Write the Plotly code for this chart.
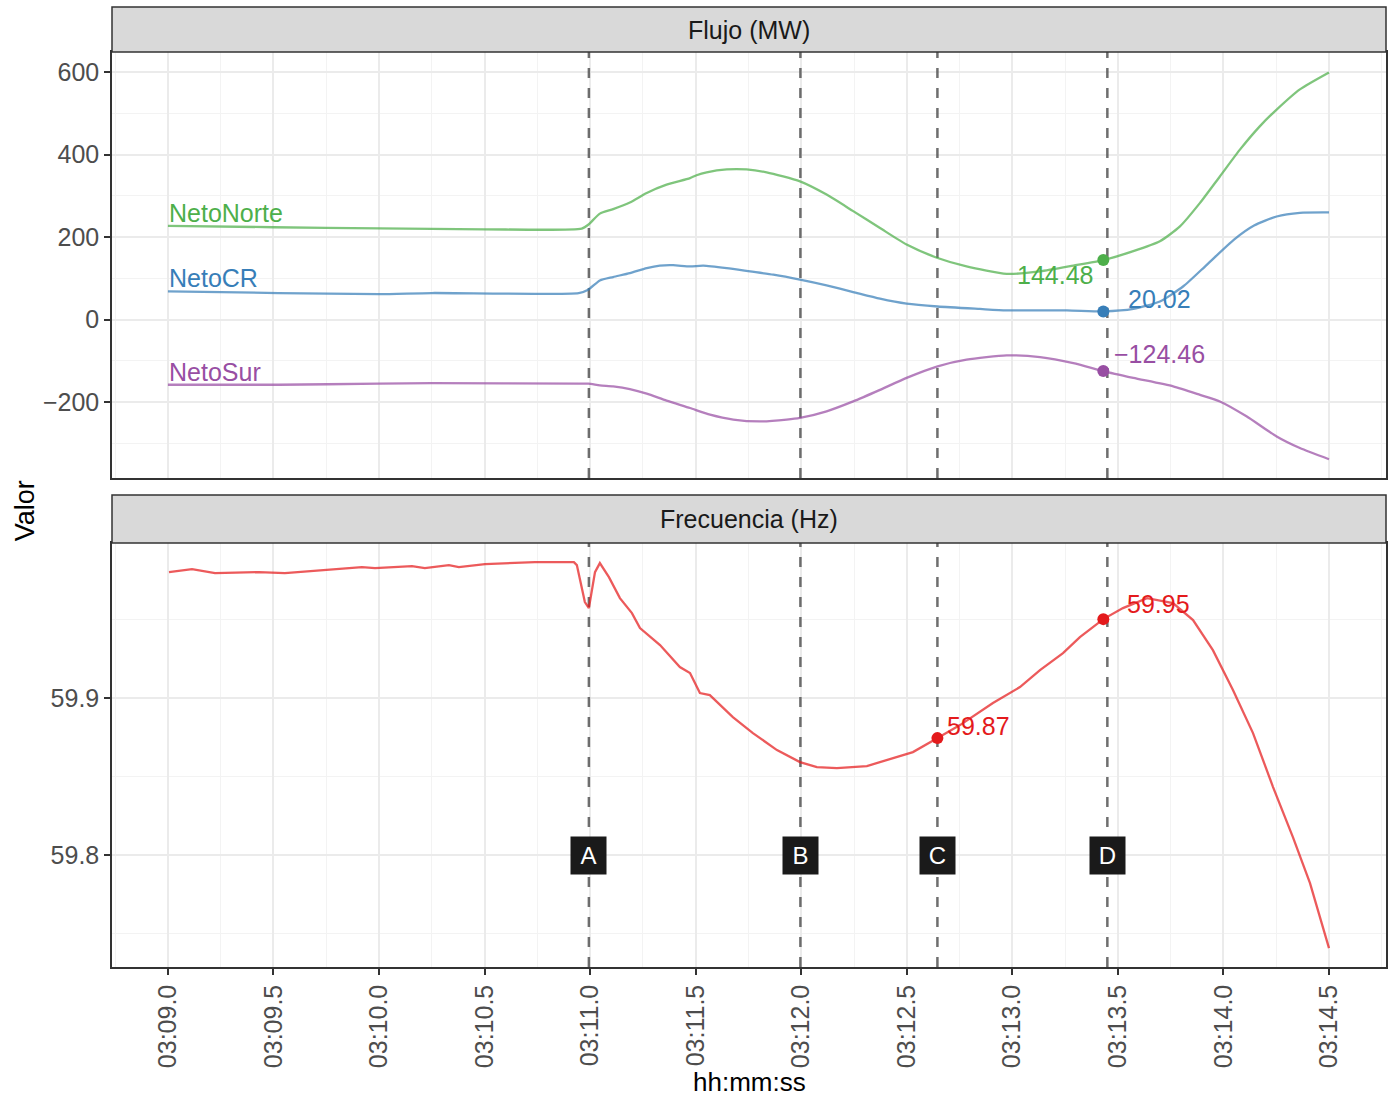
import plotly.graph_objects as go

# ---------------- data ----------------
# x in minutes after 03:00 (e.g. 11.5 -> 03:11.5)
norte_x = [9.0, 9.5, 10.0, 10.5, 10.96, 10.991, 11.046, 11.109, 11.188, 11.268, 11.362, 11.473, 11.504,
           11.552, 11.647, 11.741, 11.836, 11.994, 12.120, 12.246, 12.373, 12.499, 12.646, 12.783,
           12.973, 13.131, 13.289, 13.431, 13.573, 13.699, 13.794, 13.889, 13.983, 14.078, 14.173,
           14.252, 14.362, 14.5]
norte_y = [227.5, 224, 221, 219, 220.6, 230, 257, 268, 284, 307, 327, 343, 350,
           357, 364, 364, 357, 335, 303, 263, 222, 182, 149.5, 129,
           111, 117, 131, 144.48, 166, 190, 226, 283, 347, 412, 469,
           509, 558, 599]

cr_x = [9.0, 9.524, 10.0, 10.25, 10.946, 10.991, 11.046, 11.109, 11.188, 11.268, 11.330, 11.393, 11.473,
        11.536, 11.647, 11.758, 11.868, 11.994, 12.120, 12.246, 12.373, 12.499, 12.646, 12.846,
        12.973, 13.258, 13.431, 13.573, 13.699, 13.810, 13.921, 14.050, 14.145, 14.252, 14.362, 14.5]
cr_y = [68.6, 64.6, 62, 64.6, 64.6, 72.7, 95, 103.4, 113, 125, 131, 132, 129,
        131, 125, 117, 109, 97, 83, 67, 51, 39, 32, 26,
        22.6, 22.6, 20.02, 26, 44, 81, 133, 194, 228, 250, 259, 260]

sur_x = [9.0, 9.524, 10.0, 10.25, 10.946, 10.991, 11.046, 11.109, 11.188, 11.268, 11.362, 11.473, 11.568,
         11.678, 11.804, 11.931, 11.994, 12.120, 12.246, 12.373, 12.499, 12.646, 12.783, 12.973,
         13.131, 13.289, 13.431, 13.573, 13.762, 13.889, 13.983, 14.109, 14.252, 14.362, 14.5]
sur_y = [-157.6, -157.6, -155, -153.5, -155, -155, -159, -161.6, -168, -179, -196, -214, -230,
         -242, -246.5, -242, -238, -222, -198, -170, -141, -113, -97, -86.5,
         -90.5, -105, -124.46, -141, -161.6, -182, -198, -234, -283, -311, -338]

freq_x = [9.005, 9.114, 9.223, 9.431, 9.554, 9.744, 9.919, 9.981, 10.156, 10.217, 10.331, 10.378,
          10.502, 10.738, 10.923, 10.937, 10.975, 10.994, 11.023, 11.046, 11.089, 11.141, 11.198,
          11.236, 11.331, 11.425, 11.473, 11.520, 11.567, 11.676, 11.771, 11.885, 11.994, 12.074,
          12.169, 12.311, 12.434, 12.529, 12.646, 12.752, 12.908, 13.036, 13.131, 13.240, 13.320,
          13.431, 13.524, 13.638, 13.761, 13.856, 13.950, 14.045, 14.140, 14.235, 14.329, 14.410, 14.5]
freq_y = [59.98025, 59.98217, 59.97962, 59.98025, 59.97962, 59.98153, 59.98344, 59.98280, 59.98408,
          59.98280, 59.98471, 59.98344, 59.98535, 59.98662, 59.98662, 59.98471, 59.96115, 59.95732,
          59.98025, 59.98599, 59.97707, 59.96369, 59.95414, 59.94459, 59.93376, 59.91975, 59.91592,
          59.90318, 59.90191, 59.88790, 59.87771, 59.86688, 59.85924, 59.85605, 59.85541, 59.85669,
          59.86178, 59.86561, 59.87452, 59.88280, 59.89682, 59.90701, 59.91783, 59.92866, 59.93885,
          59.95032, 59.95732, 59.96369, 59.96051, 59.94968, 59.93057, 59.90510, 59.87771, 59.84331,
          59.81146, 59.78217, 59.74076]

# event markers
event_names = ["A", "B", "C", "D"]
event_x = [10.994, 11.996, 12.645, 13.450]

# highlighted points
flow_point_x = 13.431
flow_point_vals = {"NetoNorte": 144.48, "NetoCR": 20.02, "NetoSur": -124.46}
freq_point_x = [12.645, 13.431]
freq_point_y = [59.8745, 59.9503]

xtick_vals = [9.0, 9.5, 10.0, 10.5, 11.0, 11.5, 12.0, 12.5, 13.0, 13.5, 14.0, 14.5]
xtick_text = ["03:09.0", "03:09.5", "03:10.0", "03:10.5", "03:11.0", "03:11.5",
              "03:12.0", "03:12.5", "03:13.0", "03:13.5", "03:14.0", "03:14.5"]
flow_ticks = [-200, 0, 200, 400, 600]
freq_ticks = [59.8, 59.9]

# ---------------- styling ----------------
FONT = "Liberation Sans, Arial, Helvetica, sans-serif"
TICK = 25
LBL = 25
col_full = {"NetoNorte": "#4DAF4A", "NetoCR": "#377EB8", "NetoSur": "#984EA3", "freq": "#E41A1C"}
col_line = {"NetoNorte": "rgba(77,175,74,0.72)", "NetoCR": "rgba(55,126,184,0.72)",
            "NetoSur": "rgba(152,78,163,0.72)", "freq": "rgba(228,26,28,0.72)"}

xrange = [8.735, 14.770]
flow_range = [-383.5, 648.5]
freq_range = [59.7287, 59.9988]

fig = go.Figure()

# event vertical dashed lines (drawn first so they sit under the data)
dash_style = dict(color="rgba(85,85,85,0.85)", width=2.5, dash="10px,10px")
for ex in event_x:
    fig.add_trace(go.Scatter(x=[ex, ex], y=flow_range, mode="lines", line=dash_style,
                             xaxis="x", yaxis="y", showlegend=False, hoverinfo="skip"))
    fig.add_trace(go.Scatter(x=[ex, ex], y=freq_range, mode="lines", line=dash_style,
                             xaxis="x2", yaxis="y2", showlegend=False, hoverinfo="skip"))

series = [("NetoNorte", norte_x, norte_y), ("NetoCR", cr_x, cr_y), ("NetoSur", sur_x, sur_y)]
for name, xs, ys in series:
    fig.add_trace(go.Scatter(x=xs, y=ys, mode="lines",
                             line=dict(color=col_line[name], width=2.3, shape="spline", smoothing=0.6),
                             xaxis="x", yaxis="y", showlegend=False, hoverinfo="skip"))
fig.add_trace(go.Scatter(x=freq_x, y=freq_y, mode="lines", line=dict(color=col_line["freq"], width=2.3),
                         xaxis="x2", yaxis="y2", showlegend=False))

for name, _, _ in series:
    fig.add_trace(go.Scatter(x=[flow_point_x], y=[flow_point_vals[name]], mode="markers",
                             marker=dict(color=col_full[name], size=12), xaxis="x", yaxis="y", showlegend=False))
fig.add_trace(go.Scatter(x=freq_point_x, y=freq_point_y, mode="markers",
                         marker=dict(color=col_full["freq"], size=12), xaxis="x2", yaxis="y2", showlegend=False))

annotations = []
# series name labels at start of each line
for name, xs, ys in series:
    annotations.append(dict(x=xs[0], y=ys[0], xref="x", yref="y", text=name, showarrow=False,
                            xanchor="left", yanchor="middle", yshift=13, xshift=-1,
                            font=dict(family=FONT, size=LBL, color=col_full[name])))
# value labels
label_offsets = {"NetoNorte": (-48, -15), "NetoCR": (56, 12), "NetoSur": (56, 17)}
for name in ["NetoNorte", "NetoCR", "NetoSur"]:
    dx, dy = label_offsets[name]
    annotations.append(dict(x=flow_point_x, y=flow_point_vals[name], xref="x", yref="y",
                            text=f"{flow_point_vals[name]:.2f}".replace("-", "\u2212"), showarrow=False,
                            xanchor="center", yanchor="middle", xshift=dx, yshift=dy,
                            font=dict(family=FONT, size=LBL, color=col_full[name])))
for (px_, py_), (dx, dy) in zip(zip(freq_point_x, freq_point_y), [(41, 12), (55, 15)]):
    annotations.append(dict(x=px_, y=py_, xref="x2", yref="y2", text=f"{py_:.2f}", showarrow=False,
                            xanchor="center", yanchor="middle", xshift=dx, yshift=dy,
                            font=dict(family=FONT, size=LBL, color=col_full["freq"])))
# event boxes
for nm, ex in zip(event_names, event_x):
    annotations.append(dict(x=ex, y=59.8, xref="x2", yref="y2", text=nm, showarrow=False,
                            xanchor="center", yanchor="middle", bgcolor="#1A1A1A", borderpad=4,
                            width=27, height=29,
                            font=dict(family=FONT, size=24, color="white")))

# strips
top_panel = [0.509375, 0.953125]
bot_panel = [0.0, 0.441667]
top_strip = [0.953125, 1.0]
bot_strip = [0.441667, 0.491667]
shapes = []
for s0, s1, txt in [(top_strip[0], top_strip[1], "Flujo (MW)"), (bot_strip[0], bot_strip[1], "Frecuencia (Hz)")]:
    shapes.append(dict(type="rect", xref="paper", yref="paper", x0=0, x1=1, y0=s0, y1=s1,
                       fillcolor="#D9D9D9", line=dict(color="#333333", width=1.5), layer="above"))
    annotations.append(dict(x=0.5, y=(s0 + s1) / 2, xref="paper", yref="paper", text=txt, showarrow=False,
                            xanchor="center", yanchor="middle", font=dict(family=FONT, size=25, color="#1A1A1A")))

# axis titles
annotations.append(dict(x=-0.068, y=0.475, xref="paper", yref="paper", text="Valor", showarrow=False,
                        textangle=-90, xanchor="center", yanchor="middle", font=dict(family=FONT, size=27, color="black")))
annotations.append(dict(x=0.5, y=-0.12, xref="paper", yref="paper", text="hh:mm:ss", showarrow=False,
                        xanchor="center", yanchor="middle", font=dict(family=FONT, size=26, color="black")))

axis_common = dict(showline=True, mirror=True, linecolor="#333333", linewidth=1.5,
                   gridcolor="#EBEBEB", gridwidth=2, zeroline=False)
minor_x = dict(tick0=8.75, dtick=0.5, showgrid=True, gridcolor="#F3F3F3", gridwidth=1.2)
fig.update_layout(
    width=1389, height=1097,
    margin=dict(l=112, r=1, t=7, b=130),
    paper_bgcolor="white", plot_bgcolor="white",
    font=dict(family=FONT),
    xaxis=dict(domain=[0, 1], anchor="y", range=xrange, tickmode="array", tickvals=xtick_vals,
               showticklabels=False, ticks="", minor=minor_x, **axis_common),
    xaxis2=dict(domain=[0, 1], anchor="y2", range=xrange, matches="x", tickmode="array",
                tickvals=xtick_vals, ticktext=xtick_text, tickangle=-90, ticks="outside", ticklen=6,
                tickwidth=1.5, tickcolor="#333333", tickfont=dict(family=FONT, size=TICK, color="#4D4D4D"),
                minor=minor_x, **axis_common),
    yaxis=dict(domain=top_panel, anchor="x", range=flow_range, tickmode="array", tickvals=flow_ticks,
               ticktext=[str(v).replace("-", "\u2212") for v in flow_ticks],
               ticks="outside", ticklen=6, tickwidth=1.5, tickcolor="#333333",
               tickfont=dict(family=FONT, size=TICK, color="#4D4D4D"),
               minor=dict(tick0=-300, dtick=200, showgrid=True, gridcolor="#F3F3F3", gridwidth=1.2),
               **axis_common),
    yaxis2=dict(domain=bot_panel, anchor="x2", range=freq_range, tickmode="array", tickvals=freq_ticks,
                ticktext=["59.8", "59.9"],
                ticks="outside", ticklen=6, tickwidth=1.5, tickcolor="#333333",
                tickfont=dict(family=FONT, size=TICK, color="#4D4D4D"),
                minor=dict(tick0=59.75, dtick=0.1, showgrid=True, gridcolor="#F3F3F3", gridwidth=1.2),
                **axis_common),
    shapes=shapes,
    annotations=annotations,
)

fig.write_html("out.html", config={"displayModeBar": False},
               post_script="document.body.style.margin='0px';document.body.style.overflow='hidden';")
